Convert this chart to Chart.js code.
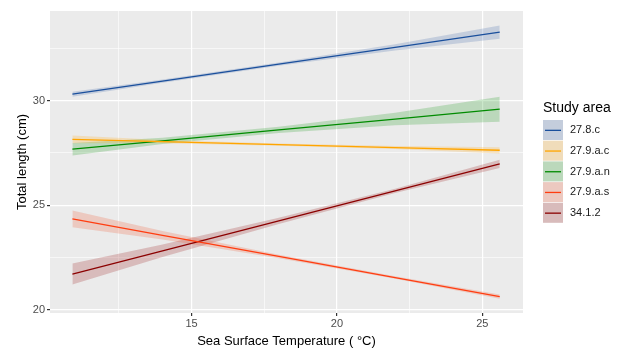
<!DOCTYPE html>
<html>
<head>
<meta charset="utf-8">
<script src="https://cdn.jsdelivr.net/npm/chart.js@4.4.1/dist/chart.umd.min.js"></script>
<style>
  html, body { margin: 0; padding: 0; background: #fff; }
  #wrap { width: 619px; height: 349px; position: relative; }
</style>
</head>
<body>
<div id="wrap"><canvas id="chart"></canvas></div>
<script>
// sea surface temperature where the fitted values were read
const sst = [10.9, 14, 18, 22, 25.6];

const areas = ['27.8.c', '27.9.a.c', '27.9.a.n', '27.9.a.s', '34.1.2'];

// fitted total length (cm)
const fit278c = [30.31, 30.93, 31.74, 32.54, 33.27];
const fit279ac = [28.15, 28.04, 27.90, 27.76, 27.63];
const fit279an = [27.68, 28.08, 28.60, 29.12, 29.59];
const fit279as = [24.35, 23.57, 22.56, 21.55, 20.64];
const fit3412 = [21.72, 22.83, 24.26, 25.69, 26.98];

// confidence band, lower and upper
const low278c = [30.19, 30.85, 31.66, 32.39, 32.95];
const high278c = [30.43, 31.01, 31.82, 32.69, 33.59];
const low279ac = [27.97, 27.96, 27.85, 27.69, 27.48];
const high279ac = [28.33, 28.12, 27.95, 27.83, 27.78];
const low279an = [27.38, 27.93, 28.45, 28.82, 28.99];
const high279an = [27.98, 28.23, 28.75, 29.42, 30.19];
const low279as = [23.95, 23.37, 22.48, 21.49, 20.54];
const high279as = [24.75, 23.77, 22.64, 21.61, 20.74];
const low3412 = [21.22, 22.53, 24.11, 25.59, 26.78];
const high3412 = [22.22, 23.13, 24.41, 25.79, 27.18];

const xTicks = [12.5, 15, 17.5, 20, 22.5, 25];
const yTicks = [20, 22.5, 25, 27.5, 30, 32.5];

const lineColors = ['#1a4f9c', '#ffa500', '#008b00', '#ff3d10', '#8b0000'];
const bandColors = ['rgba(60,100,170,0.22)', 'rgba(255,175,40,0.25)', 'rgba(20,150,20,0.22)',
                    'rgba(240,80,40,0.22)', 'rgba(150,20,20,0.22)'];

const fits = [fit278c, fit279ac, fit279an, fit279as, fit3412];
const lows = [low278c, low279ac, low279an, low279as, low3412];
const highs = [high278c, high279ac, high279an, high279as, high3412];

const pts = arr => arr.map((v, i) => ({ x: sst[i], y: v }));

const datasets = [];
areas.forEach((name, i) => {
    datasets.push({
        label: name + ' low', data: pts(lows[i]), borderWidth: 0, pointRadius: 0,
        fill: false, order: 2
    });
    datasets.push({
        label: name + ' high', data: pts(highs[i]), borderWidth: 0, pointRadius: 0,
        backgroundColor: bandColors[i], fill: '-1', order: 2
    });
});
areas.forEach((name, i) => {
    datasets.push({
        label: name, data: pts(fits[i]), borderColor: lineColors[i], borderWidth: 1.3,
        pointRadius: 0, fill: false, order: 0
    });
});

const panelBg = {
    id: 'panelBg',
    beforeDraw(chart) {
        const { ctx, chartArea: a } = chart;
        ctx.save();
        ctx.fillStyle = '#ebebeb';
        ctx.fillRect(a.left, a.top, a.right - a.left, a.bottom - a.top);
        ctx.restore();
    }
};

const keyLegend = {
    id: 'keyLegend',
    afterDraw(chart) {
        const ctx = chart.ctx;
        const x0 = 543, y0 = 120, w = 20, h = 20.7;
        ctx.save();
        ctx.fillStyle = '#000';
        ctx.font = '14px "Liberation Sans", Arial, sans-serif';
        ctx.textBaseline = 'middle';
        ctx.fillText('Study area', x0, 108);
        ctx.font = '11px "Liberation Sans", Arial, sans-serif';
        areas.forEach((name, i) => {
            const y = y0 + i * h;
            ctx.fillStyle = '#ebebeb';
            ctx.fillRect(x0, y, w, h - 0.7);
            ctx.fillStyle = bandColors[i];
            ctx.fillRect(x0, y, w, h - 0.7);
            ctx.strokeStyle = lineColors[i];
            ctx.lineWidth = 1.3;
            ctx.beginPath();
            ctx.moveTo(x0 + 2, y + h / 2);
            ctx.lineTo(x0 + w - 2, y + h / 2);
            ctx.stroke();
            ctx.fillStyle = '#1a1a1a';
            ctx.fillText(name, x0 + 27, y + h / 2);
        });
        ctx.restore();
    }
};

const isMajor = v => Math.abs(v % 5) < 1e-6;

new Chart(document.getElementById('chart'), {
    type: 'line',
    data: { datasets },
    plugins: [panelBg, keyLegend],
    options: {
        responsive: true,
        maintainAspectRatio: false,
        animation: false,
        layout: { padding: { top: 11, right: 96, left: 0, bottom: 0 } },
        plugins: { legend: { display: false }, tooltip: { enabled: false } },
        scales: {
            x: {
                type: 'linear', min: 10.13, max: 26.4,
                afterBuildTicks: s => { s.ticks = xTicks.map(v => ({ value: v })); },
                afterFit: s => { s.height = 36; },
                border: { display: false },
                grid: {
                    color: '#ffffff',
                    lineWidth: c => isMajor(c.tick.value) ? 1.2 : 0.6,
                    tickColor: c => isMajor(c.tick.value) ? '#333333' : 'rgba(0,0,0,0)',
                    tickLength: 3
                },
                ticks: {
                    callback: v => isMajor(v) ? String(v) : '',
                    color: '#4d4d4d', padding: 1,
                    font: { family: '"Liberation Sans", Arial, sans-serif', size: 11 },
                    maxRotation: 0, autoSkip: false
                },
                title: {
                    display: true, text: 'Sea Surface Temperature ( °C)', color: '#000',
                    padding: { top: 0, bottom: 0 },
                    font: { family: '"Liberation Sans", Arial, sans-serif', size: 13 }
                }
            },
            y: {
                type: 'linear', min: 19.86, max: 34.28,
                afterBuildTicks: s => { s.ticks = yTicks.map(v => ({ value: v })); },
                afterFit: s => { s.width = 50; },
                border: { display: false },
                grid: {
                    color: '#ffffff',
                    lineWidth: c => isMajor(c.tick.value) ? 1.2 : 0.6,
                    tickColor: c => isMajor(c.tick.value) ? '#333333' : 'rgba(0,0,0,0)',
                    tickLength: 3
                },
                ticks: {
                    callback: v => isMajor(v) ? String(v) : '',
                    color: '#4d4d4d', padding: 2,
                    font: { family: '"Liberation Sans", Arial, sans-serif', size: 11 },
                    autoSkip: false
                },
                title: {
                    display: true, text: 'Total length (cm)', color: '#000',
                    padding: { top: 15, bottom: 0 },
                    font: { family: '"Liberation Sans", Arial, sans-serif', size: 13 }
                }
            }
        }
    }
});
</script>
</body>
</html>
